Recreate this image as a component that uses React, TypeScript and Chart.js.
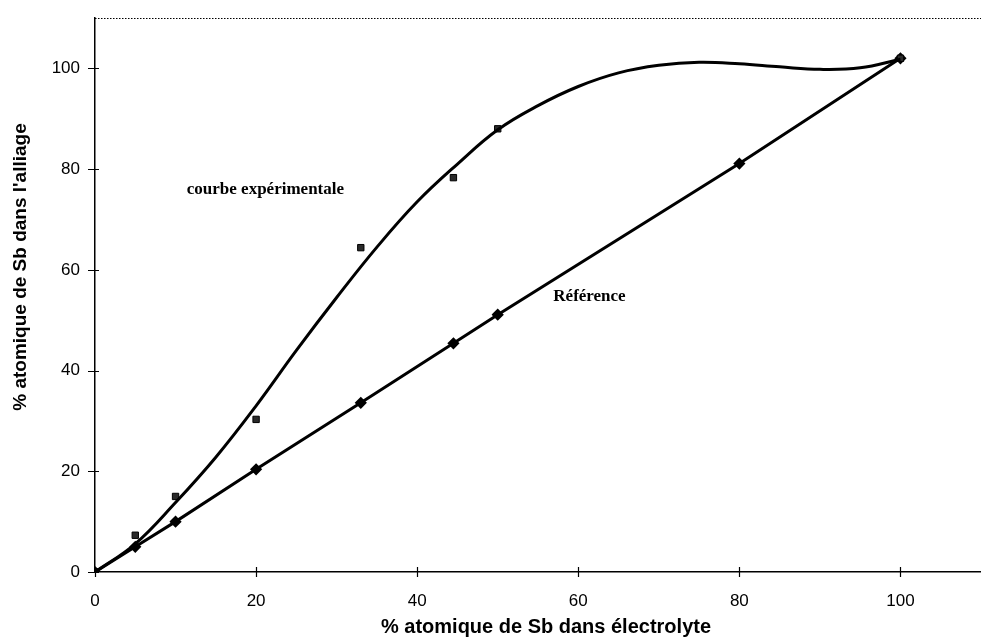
import { useEffect, useRef } from "react";
import { Chart, registerables } from "chart.js";

Chart.register(...registerables);

// Experimental measurements (markers)
const expX = [0, 5, 10, 20, 33, 44.5, 50, 100];
const expY = [0, 7.3, 15, 30.3, 64.4, 78.3, 88, 102];

// Reference line (diamonds)
const refX = [0, 5, 10, 20, 33, 44.5, 50, 80, 100];
const refY = [0, 5, 10, 20.4, 33.6, 45.4, 51.1, 81.1, 102];

const curveX = [0, 5, 10, 15, 20, 25, 30, 35, 40, 45, 50, 55, 60, 65, 70, 75, 80, 85, 90, 95, 100];
const curveY = [0, 5.6, 13.8, 22.8, 33, 44, 54.5, 64.5, 73.5, 81, 87.8, 92.6, 96.4, 99.1, 100.6, 101.2, 100.9, 100.3, 99.8, 100.1, 101.8];

const xTicks = [0, 20, 40, 60, 80, 100];
const yTicks = [0, 20, 40, 60, 80, 100];

const xTitle = "% atomique de Sb dans électrolyte";
const yTitle = "% atomique de Sb dans l'alliage";
const expLabel = "courbe expérimentale";
const refLabel = "Référence";

const decor = {
  id: "decor",
  afterDraw(chart: any) {
    const { ctx, chartArea: a, scales } = chart;
    const x = scales.x;
    const y = scales.y;
    ctx.save();
    ctx.strokeStyle = "#000";
    ctx.fillStyle = "#000";
    // dotted top border
    ctx.lineWidth = 1;
    ctx.setLineDash([1.5, 1.5]);
    ctx.beginPath();
    ctx.moveTo(a.left, a.top + 0.5);
    ctx.lineTo(a.right, a.top + 0.5);
    ctx.stroke();
    ctx.setLineDash([]);
    // crossing tick marks
    ctx.lineWidth = 1.2;
    ctx.beginPath();
    yTicks.forEach((v) => {
      const py = Math.round(y.getPixelForValue(v)) + 0.5;
      ctx.moveTo(a.left - 7, py);
      ctx.lineTo(a.left + 4, py);
    });
    xTicks.forEach((v) => {
      const px = Math.round(x.getPixelForValue(v)) + 0.5;
      ctx.moveTo(px, a.bottom - 5);
      ctx.lineTo(px, a.bottom + 5);
    });
    ctx.stroke();
    // annotations
    ctx.font = 'bold 17px "Liberation Serif"';
    ctx.textBaseline = "middle";
    ctx.textAlign = "left";
    ctx.fillText(expLabel, x.getPixelForValue(11.4), y.getPixelForValue(76));
    ctx.fillText(refLabel, x.getPixelForValue(56.9), y.getPixelForValue(54.7));
    // axis titles
    ctx.textAlign = "center";
    ctx.font = 'bold 20px "Liberation Sans"';
    ctx.fillText(xTitle, 546, 627);
    ctx.translate(21, 267);
    ctx.rotate(-Math.PI / 2);
    ctx.font = 'bold 19px "Liberation Sans"';
    ctx.fillText(yTitle, 0, 0);
    ctx.restore();
  },
};

export default function App() {
  const ref = useRef<HTMLCanvasElement | null>(null);

  useEffect(() => {
    if (!ref.current) return;
    const toPts = (xs: number[], ys: number[]) => xs.map((v, i) => ({ x: v, y: ys[i] }));
    const tickFont = { family: '"Liberation Sans", Arial, sans-serif', size: 17 };
    const chart = new Chart(ref.current, {
      type: "line",
      data: {
        datasets: [
          {
            label: "fit",
            data: toPts(curveX, curveY),
            borderColor: "#000",
            borderWidth: 3,
            pointRadius: 0,
            tension: 0.4,
            fill: false,
          },
          {
            label: "exp",
            data: toPts(expX, expY),
            showLine: false,
            pointStyle: "rect",
            pointRadius: 4.5,
            pointBackgroundColor: "#2a2a2a",
            pointBorderColor: "#000",
            pointBorderWidth: 1,
          },
          {
            label: "ref",
            data: toPts(refX, refY),
            borderColor: "#000",
            borderWidth: 3,
            tension: 0,
            pointStyle: "rectRot",
            pointRadius: 4,
            pointBackgroundColor: "#000",
            pointBorderColor: "#000",
            fill: false,
          },
        ],
      },
      options: {
        responsive: false,
        animation: false,
        layout: { autoPadding: false, padding: { top: 18, right: 0, left: 0, bottom: 0 } },
        plugins: { legend: { display: false }, tooltip: { enabled: false } },
        scales: {
          x: {
            type: "linear",
            min: 0,
            max: 110,
            afterFit: (s: any) => {
              s.height = 67;
              s.paddingLeft = 0;
              s.paddingRight = 0;
            },
            grid: { display: false, drawTicks: false },
            border: { display: true, color: "#000", width: 1.5 },
            ticks: {
              stepSize: 20,
              includeBounds: false,
              color: "#000",
              font: tickFont,
              padding: 19,
              maxRotation: 0,
            },
          },
          y: {
            type: "linear",
            min: 0,
            max: 110,
            afterFit: (s: any) => {
              s.width = 95;
              s.paddingTop = 0;
              s.paddingBottom = 0;
            },
            grid: { display: false, drawTicks: false },
            border: { display: true, color: "#000", width: 1.5 },
            ticks: {
              stepSize: 20,
              includeBounds: false,
              color: "#000",
              font: tickFont,
              padding: 15,
            },
          },
        },
      },
      plugins: [decor],
    } as any);
    return () => chart.destroy();
  }, []);

  return (
    <div style={{ position: "absolute", left: 0, top: 0, width: 981, height: 639, background: "#fff" }}>
      <canvas ref={ref} width={981} height={639} />
    </div>
  );
}
